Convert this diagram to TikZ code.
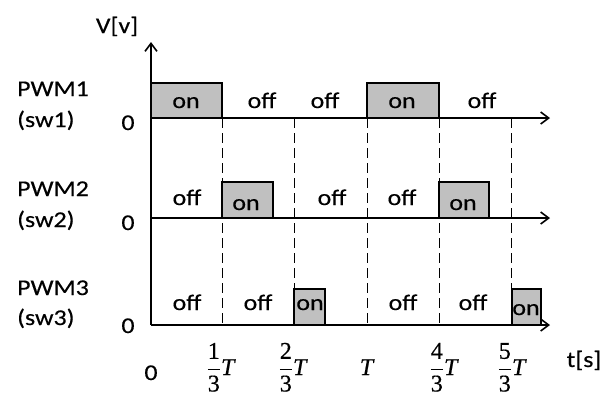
\documentclass[tikz,border=0pt]{standalone}
\usepackage{fix-cm}
\usepackage{fontspec}
\setmainfont{Carlito}[FakeStretch=1.15,FakeBold=0.4]
\newfontfamily\tickfont{Liberation Serif}[FakeBold=0.5]
\usetikzlibrary{arrows.meta}
\definecolor{boxgray}{RGB}{192,192,192}
\newcommand{\tk}[1]{\hbox{\tickfont #1}}
\newcommand{\tT}{\hbox{\tickfont\itshape T\kern1pt}}
\begin{document}
\begin{tikzpicture}[x=1pt,y=-1pt,
  lbl/.style={font=\fontsize{22.5}{26}\selectfont, inner sep=0pt, anchor=base},
  rowlbl/.style={font=\fontsize{22.5}{26}\selectfont, inner sep=0pt, anchor=base west},
  mlbl/.style={font=\fontsize{24}{28}\selectfont, inner sep=0pt, anchor=base},
  axisline/.style={line width=1.6pt, -{Straight Barb[length=8pt,width=12pt,line width=1.6pt]}},
  pulse/.style={draw=black, line width=2.6pt, fill=boxgray},
  guide/.style={line width=1pt, dash pattern=on 10pt off 5pt}]
\useasboundingbox (0,0) rectangle (614,392);

% coordinates
\coordinate (O) at (151,325);
\coordinate (Vtop) at (151,42);
\coordinate (h1s) at (151,118); \coordinate (h1e) at (550,118);
\coordinate (h2s) at (151,218); \coordinate (h2e) at (550,218);
\coordinate (h3s) at (151,325); \coordinate (h3e) at (550,325);
\foreach \x/\n in {222/a,294/b,367/c,439/d,511/e}{
  \coordinate (g\n t) at (\x,118);
  \coordinate (g\n b) at (\x,325);
}

% dashed guides
\foreach \n in {a,b,c,d,e}{
  \draw[guide] (g\n t) -- (g\n b);
}

% axes
\draw[axisline] (O) -- (Vtop);
\draw[axisline] (h1s) -- (h1e);
\draw[axisline] (h2s) -- (h2e);
\draw[axisline] (h3s) -- (h3e);

% pulses
\draw[pulse] (151,83) rectangle (222,118);
\draw[pulse] (367,83) rectangle (439,118);
\draw[pulse] (222,182) rectangle (273,218);
\draw[pulse] (439,182) rectangle (489,218);
\draw[pulse] (294,289) rectangle (325,325);
\draw[pulse] (512,289) rectangle (541,325);

% axis labels
\node[lbl] (vlab) at (117,33) {V[v]};
\node[lbl] (tlab) at (584,367) {t[s]};

% row labels
\node[rowlbl] (p1) at (17,96) {PWM1};
\node[rowlbl] (s1) at (17,127) {(sw1)};
\node[lbl] (z1) at (128,130) {0};
\node[rowlbl] (p2) at (17,196) {PWM2};
\node[rowlbl] (s2) at (17,227) {(sw2)};
\node[lbl] (z2) at (128,230) {0};
\node[rowlbl] (p3) at (17,295) {PWM3};
\node[rowlbl] (s3) at (17,325) {(sw3)};
\node[lbl] (z3) at (128,333) {0};

% PWM1 states
\node[lbl] (a1) at (186,108) {on};
\node[lbl] (a2) at (262,108) {off};
\node[lbl] (a3) at (325,108) {off};
\node[lbl] (a4) at (402,108) {on};
\node[lbl] (a5) at (482,108) {off};
% PWM2 states
\node[lbl] (b1) at (187,205) {off};
\node[lbl] (b2) at (246,210) {on};
\node[lbl] (b3) at (332,205) {off};
\node[lbl] (b4) at (402,205) {off};
\node[lbl] (b5) at (463,210) {on};
% PWM3 states
\node[lbl] (c1) at (187,310) {off};
\node[lbl] (c2) at (258,310) {off};
\node[lbl] (c3) at (310,310) {on};
\node[lbl] (c4) at (403,310) {off};
\node[lbl] (c5) at (473,310) {off};
\node[lbl] (c6) at (526,315) {on};

% time ticks
\node[lbl] (t0) at (151,380) {0};
\node[mlbl] (t1) at (221,375) {$\displaystyle\frac{\tk{1}}{\tk{3}}\tT$};
\node[mlbl] (t2) at (293,375) {$\displaystyle\frac{\tk{2}}{\tk{3}}\tT$};
\node[mlbl] (t3) at (367,375) {$\tT$};
\node[mlbl] (t4) at (444,375) {$\displaystyle\frac{\tk{4}}{\tk{3}}\tT$};
\node[mlbl] (t5) at (512,375) {$\displaystyle\frac{\tk{5}}{\tk{3}}\tT$};
\end{tikzpicture}
\end{document}
